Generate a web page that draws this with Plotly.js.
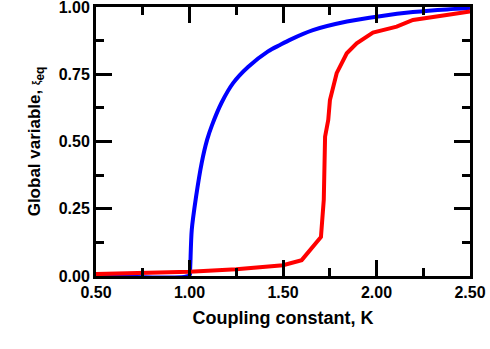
<!DOCTYPE html>
<html>
<head>
<meta charset="utf-8">
<script src="https://cdn.plot.ly/plotly-3.0.1.min.js"></script>
<style>
  body { margin: 0; background: #fff; }
  #chart { width: 490px; height: 349px; }
</style>
</head>
<body>
<div id="chart"></div>
<script>
// blue curve
let blueK = [0.5, 1.0, 1.003, 1.012, 1.035, 1.065, 1.094, 1.12, 1.172, 1.233, 1.313, 1.42, 1.484, 1.537, 1.66, 1.842, 2.019, 2.195, 2.377, 2.5];
let blueXi = [0.003, 0.003, 0.02, 0.171, 0.294, 0.42, 0.506, 0.56, 0.645, 0.717, 0.777, 0.835, 0.859, 0.878, 0.914, 0.946, 0.966, 0.981, 0.991, 0.995];

// red curve
let redK = [0.5, 1.0, 1.25, 1.5, 1.6, 1.703, 1.718, 1.725, 1.742, 1.751, 1.787, 1.821, 1.841, 1.894, 1.981, 2.108, 2.195, 2.375, 2.5];
let redXi = [0.007, 0.016, 0.025, 0.040, 0.059, 0.145, 0.283, 0.518, 0.58, 0.654, 0.754, 0.803, 0.828, 0.865, 0.905, 0.927, 0.952, 0.970, 0.983];

let xTicks = [0.5, 1.0, 1.5, 2.0, 2.5];
let yTicks = [0, 0.25, 0.5, 0.75, 1.0];

let traceBlue = {
    x: blueK,
    y: blueXi,
    mode: "lines",
    line: {color: "#0000ff", width: 4, shape: "spline", smoothing: 0.8},
    showlegend: false
};
let traceRed = {
    x: redK,
    y: redXi,
    mode: "lines",
    line: {color: "#ff0000", width: 4},
    showlegend: false
};

let axisStyle = {
    showline: true,
    linecolor: "black",
    linewidth: 3,
    mirror: "ticks",
    ticks: "inside",
    tickmode: "array",
    ticklen: 16,
    tickwidth: 3,
    tickcolor: "black",
    showgrid: false,
    zeroline: false,
    tickformat: ".2f",
    ticklabeloverflow: "allow",
    tickfont: {family: "Liberation Sans, Arial, sans-serif", size: 16, color: "black", weight: "bold"}
};

let layout = {
    width: 490,
    height: 349,
    margin: {l: 96, r: 20, t: 7, b: 73},
    paper_bgcolor: "white",
    plot_bgcolor: "white",
    font: {family: "Liberation Sans, Arial, sans-serif", color: "black"},
    xaxis: Object.assign({}, axisStyle, {
        range: [0.5, 2.5],
        tickvals: xTicks,
        minor: {dtick: 0.25, ticks: "inside", ticklen: 8, tickwidth: 3, tickcolor: "black"},
        title: {text: "Coupling constant, K", font: {size: 18, weight: "bold"}, standoff: 12}
    }),
    yaxis: Object.assign({}, axisStyle, {
        range: [0, 1],
        tickvals: yTicks,
        ticksuffix: "\u00a0\u00a0",
        minor: {dtick: 0.125, ticks: "inside", ticklen: 8, tickwidth: 3, tickcolor: "black"},
        title: {text: "Global variable, <span style='font-size:10px'>ξ</span><sub>eq</sub>", font: {size: 17, weight: "bold"}, standoff: 14}
    })
};

Plotly.newPlot("chart", [traceBlue, traceRed], layout, {staticPlot: true});
</script>
</body>
</html>
